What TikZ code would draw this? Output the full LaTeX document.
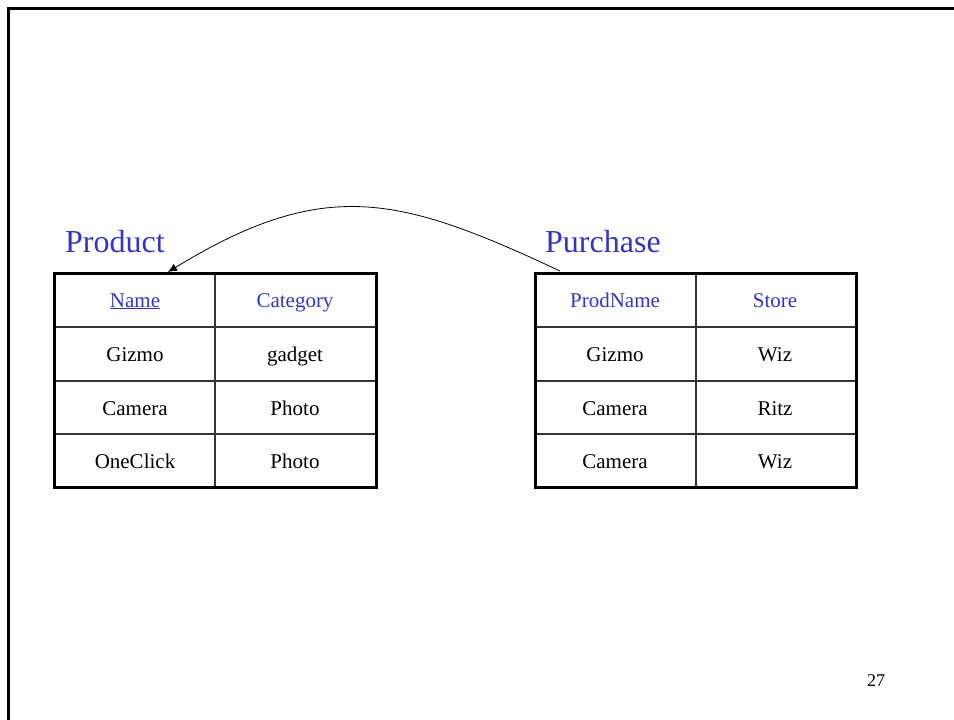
\documentclass[tikz,border=0pt]{standalone}
\usepackage{fontspec}
\setmainfont{Liberation Serif}
\usetikzlibrary{arrows.meta}
\definecolor{titleblue}{RGB}{51,51,204}
\tikzset{
  frameline/.style={line width=3pt, black},
  outerbox/.style={line width=3pt, black},
  innerline/.style={line width=1.4pt, black!80},
  cell/.style={font=\fontsize{21}{25}\selectfont, anchor=base, inner sep=0pt},
  headcell/.style={cell, text=titleblue},
  reltitle/.style={font=\fontsize{32}{38}\selectfont, text=titleblue, anchor=base west, inner sep=0pt},
  fkarrow/.style={line width=0.8pt, -{Latex[length=9pt,width=8pt]}},
}
\begin{document}
\begin{tikzpicture}[x=1pt, y=-1pt]
  \useasboundingbox (0,0) rectangle (954,720);
  % slide frame (top and left edges)
  \draw[frameline] (8.5,720) -- (8.5,8) -- (954,8);

  % Product relation
  \node[reltitle] (ptitle) at (65,252) {Product};
  \draw[innerline] (215,273) -- (215,487);
  \foreach \y in {327,381,434} \draw[innerline] (54,\y) -- (376,\y);
  \draw[outerbox] (54,273) rectangle (376,487);
  \coordinate (ptop) at (168,272);
  \node[headcell] (pn) at (135,307) {\underline{Name}};
  \node[headcell] (pc) at (295,307) {Category};
  \node[cell] (p1a) at (135,361) {Gizmo};
  \node[cell] (p1b) at (295,361) {gadget};
  \node[cell] (p2a) at (135,415) {Camera};
  \node[cell] (p2b) at (295,415) {Photo};
  \node[cell] (p3a) at (135,468) {OneClick};
  \node[cell] (p3b) at (295,468) {Photo};

  % Purchase relation
  \node[reltitle] (utitle) at (545,252) {Purchase};
  \draw[innerline] (696,273) -- (696,487);
  \foreach \y in {327,381,434} \draw[innerline] (535,\y) -- (856,\y);
  \draw[outerbox] (535,273) rectangle (856,487);
  \coordinate (utop) at (560,271);
  \node[headcell] (un) at (615,307) {ProdName};
  \node[headcell] (us) at (775,307) {Store};
  \node[cell] (u1a) at (615,361) {Gizmo};
  \node[cell] (u1b) at (775,361) {Wiz};
  \node[cell] (u2a) at (615,415) {Camera};
  \node[cell] (u2b) at (775,415) {Ritz};
  \node[cell] (u3a) at (615,468) {Camera};
  \node[cell] (u3b) at (775,468) {Wiz};

  % foreign key reference
  \draw[fkarrow] (utop) .. controls (400,196) and (325,176) .. (ptop);

  % page number
  \node[font=\fontsize{18}{22}\selectfont, inner sep=0pt] (pageno) at (876,681) {27};
\end{tikzpicture}
\end{document}
